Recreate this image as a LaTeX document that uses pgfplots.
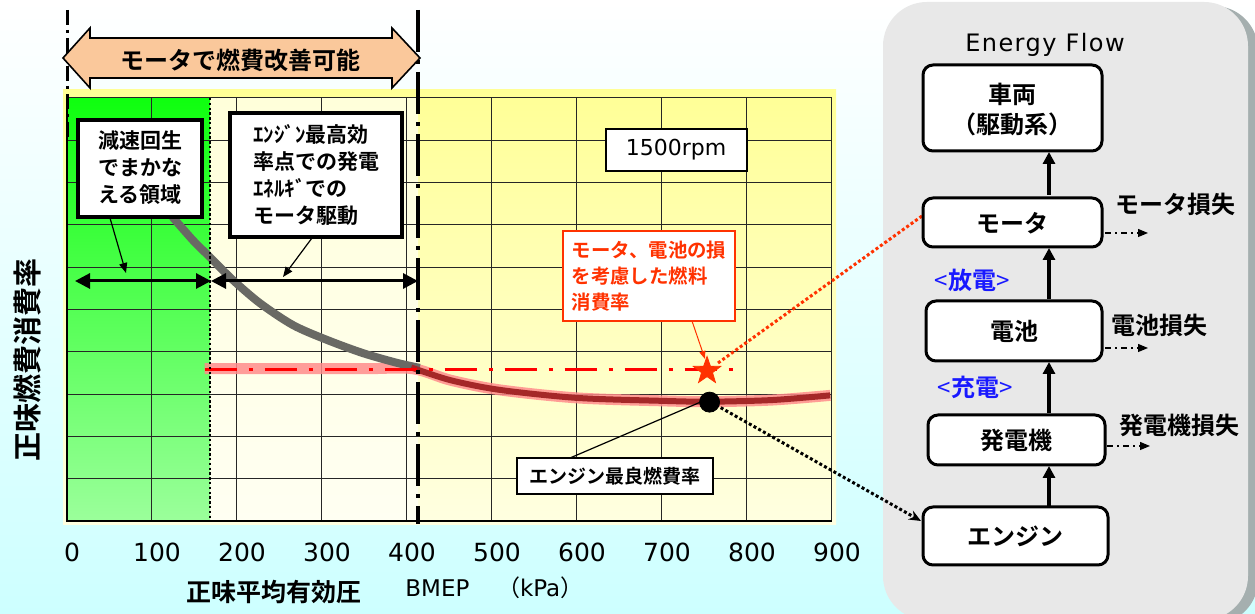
\documentclass[border=0pt]{standalone}
\usepackage{pgfplots}
\pgfplotsset{compat=1.18}
\usepackage{fontspec}
\setmainfont{DejaVu Sans}
\newfontfamily\cjk{Noto Sans CJK JP}[BoldFont={Noto Sans CJK JP Bold}]
\newfontfamily\lat{DejaVu Sans}
\newfontfamily\latw{DejaVu Sans}[LetterSpace=6]
\usetikzlibrary{arrows.meta}
\definecolor{bgcyan}{RGB}{205,255,255}
\definecolor{ytop}{RGB}{255,255,150}
\definecolor{ybot}{RGB}{255,255,225}
\definecolor{ctop}{RGB}{255,255,218}
\definecolor{cbot}{RGB}{255,255,242}
\definecolor{gtop}{RGB}{15,255,15}
\definecolor{gbot}{RGB}{155,255,155}
\definecolor{peach}{RGB}{250,200,155}
\definecolor{pinkc}{RGB}{255,140,140}
\definecolor{dred}{RGB}{165,40,40}
\definecolor{grayc}{RGB}{105,105,100}
\definecolor{orred}{RGB}{255,50,0}
\definecolor{panel}{RGB}{232,232,232}
\definecolor{shadowc}{RGB}{165,175,175}
\definecolor{blu}{RGB}{25,25,255}
\pgfdeclareplotmark{fstar}{%
 \pgfpathmoveto{\pgfpointpolar{90}{\pgfplotmarksize}}%
 \pgfpathlineto{\pgfpointpolar{126}{0.4\pgfplotmarksize}}%
 \pgfpathlineto{\pgfpointpolar{162}{\pgfplotmarksize}}%
 \pgfpathlineto{\pgfpointpolar{198}{0.4\pgfplotmarksize}}%
 \pgfpathlineto{\pgfpointpolar{234}{\pgfplotmarksize}}%
 \pgfpathlineto{\pgfpointpolar{270}{0.4\pgfplotmarksize}}%
 \pgfpathlineto{\pgfpointpolar{306}{\pgfplotmarksize}}%
 \pgfpathlineto{\pgfpointpolar{342}{0.4\pgfplotmarksize}}%
 \pgfpathlineto{\pgfpointpolar{18}{\pgfplotmarksize}}%
 \pgfpathlineto{\pgfpointpolar{54}{0.4\pgfplotmarksize}}%
 \pgfpathclose
 \pgfusepathqfillstroke}
\newcommand{\jb}[1]{\cjk\bfseries\fontsize{#1}{#1}\selectfont}
\begin{document}
\begin{tikzpicture}
\path[use as bounding box] (0,0) rectangle (627.5pt,-307pt);
\clip (0,0) rectangle (627.5pt,-307pt);
\begin{scope}[x=0.5pt,y=-0.5pt]
\shade[top color=white,bottom color=bgcyan] (0,0) rectangle (1255,614);
\fill[shadowc,rounded corners=22pt] (890,6) rectangle (1258,624);
\fill[panel,rounded corners=22pt] (883,2) rectangle (1248,620);
\shade[top color=ytop,bottom color=ybot] (63,90) rectangle (836,525);
\shade[top color=ctop,bottom color=cbot] (210,98) rectangle (418,521);
\shade[top color=gtop,bottom color=gbot] (67,98) rectangle (210,521);
\end{scope}
\begin{axis}[at={(33.5pt,-260.5pt)}, anchor=south west, scale only axis,
  width=382.5pt, height=211.5pt,
  xmin=0, xmax=900, ymin=0, ymax=10,
  xtick={0,100,...,900}, ytick={0,1,...,10}, yticklabel=\empty,
  grid=major, major grid style={line width=0.5pt,black!85},
  axis line style={line width=0.5pt,black!85},
  major tick length=0pt,
  /pgf/number format/assume math mode=true,
  xticklabel style={font=\lat\fontsize{12.5}{14}\selectfont, anchor=base, yshift=-20.5pt, xshift=2.5pt},
  clip=false]
\addplot[pinkc, opacity=0.85, line width=5.5pt, smooth] coordinates {(162,3.6)(250,3.6)(350,3.6)(407,3.6)(451,3.33)(509,3.10)(600,2.91)(701,2.84)(756,2.82)(830,2.86)(898,2.97)};
\addplot[grayc, line width=4pt, smooth] coordinates {(124,7.19)(148,6.64)(168,6.24)(195,5.70)(227,5.15)(266,4.63)(306,4.28)(348,3.97)(388,3.74)(415,3.62)};
\addplot[dred, line width=3pt, smooth] coordinates {(405,3.63)(451,3.33)(509,3.10)(600,2.91)(701,2.84)(756,2.82)(830,2.86)(898,2.97)};
\addplot[red, line width=1.5pt, dash pattern=on 16pt off 6pt on 2pt off 6pt] coordinates {(162,3.59)(786,3.59)};
\addplot[only marks, mark=*, mark size=5pt, black] coordinates {(756,2.81)};
\addplot[only marks, mark=fstar, mark size=7.2pt, orred, mark options={fill=orred,draw=orred}] coordinates {(753,3.55)};
\end{axis}
\begin{scope}[x=0.5pt,y=-0.5pt]
\draw[line width=1pt] (67,98)--(67,521)--(832,521);
\draw[line width=1.2pt, dash pattern=on 1.2pt off 1.2pt] (210,98)--(210,521);
\draw[line width=1.6pt, dash pattern=on 21pt off 4pt on 2pt off 4pt] (418,10)--(418,524);
\draw[line width=1.5pt, dash pattern=on 7.5pt off 2.5pt on 1.5pt off 2.5pt] (67,10)--(67,140);
% title arrow
\draw[fill=peach, line width=0.8pt] (63,58)--(90,28)--(90,38)--(392,38)--(392,28)--(420,58)--(392,88)--(392,78)--(90,78)--(90,88)--cycle;
\node[font=\jb{12}] at (240,60) {モータで燃費改善可能};
% horizontal arrows
\draw[line width=1.5pt, {Triangle[length=7.5pt,width=7.5pt]}-{Triangle[length=7.5pt,width=7.5pt]}] (75,281)--(211,281);
\draw[line width=1.5pt, {Triangle[length=7.5pt,width=7.5pt]}-{Triangle[length=7.5pt,width=7.5pt]}] (211,281)--(418,281);
% boxes
\draw[line width=1.6pt, fill=white] (78,120) rectangle (202,217);
\node[align=left, font=\cjk\bfseries\fontsize{10.5}{13.5}\selectfont] at (140,168) {減速回生\\でまかな\\える領域};
\draw[line width=1.6pt, fill=white] (230,113) rectangle (402,237);
\node[align=left, font=\cjk\bfseries\fontsize{10.5}{13.5}\selectfont] at (316,175) {ｴﾝｼﾞﾝ最高効\\率点での発電\\ｴﾈﾙｷﾞでの\\モータ駆動};
\draw[line width=0.6pt, -{Triangle[length=5pt,width=4pt]}] (110,218)--(126,273);
\draw[line width=0.6pt, -{Triangle[length=5pt,width=4pt]}] (312,238)--(283,277);
\draw[line width=0.7pt, fill=white] (606,129) rectangle (747,171);
\node[font=\lat\fontsize{11}{13}\selectfont] at (676,150) {1500rpm};
\draw[orred, line width=0.6pt, fill=white] (563,231) rectangle (735,321);
\node[align=left, text=orred, font=\cjk\bfseries\fontsize{9.7}{13}\selectfont] at (649,276) {モータ、電池の損\\を考慮した燃料\\消費率};
\draw[orred, line width=0.5pt, -{Triangle[length=4pt,width=3pt]}] (692,321)--(705,359);
\draw[line width=0.6pt] (570,458)--(703,401);
\draw[line width=1pt, fill=white] (517,458) rectangle (713,494);
\node[font=\jb{9.5}] at (615,476) {エンジン最良燃費率};
% connectors
\draw[orred, line width=1.5pt, dash pattern=on 1.5pt off 1.2pt] (718,363)--(922,216);
\draw[black, line width=1.5pt, dash pattern=on 1.5pt off 1.2pt, -{Stealth[length=6pt,width=5pt]}] (716,405)--(921,521);
% axis labels
\node[rotate=90, font=\jb{14.5}] at (27,360) {正味燃費消費率};
\node[font=\jb{12.5}] at (274,592) {正味平均有効圧};
\node[anchor=west, inner sep=0pt, font=\lat\fontsize{11.5}{13}\selectfont] at (405,588) {BMEP\hspace{1.2em}{\cjk （}kPa{\cjk ）}};
% right panel
\node[font=\latw\fontsize{12}{14}\selectfont] at (1045,45) {Energy Flow};
\draw[line width=1.5pt, fill=white, rounded corners=5pt] (923,65) rectangle (1102,151);
\node[align=center, font=\cjk\bfseries\fontsize{12}{15}\selectfont] at (1012,110) {車両\\（駆動系）};
\draw[line width=1.5pt, fill=white, rounded corners=5pt] (923,198) rectangle (1102,247);
\node[font=\jb{12}] at (1012,223) {モータ};
\draw[line width=1.5pt, fill=white, rounded corners=5pt] (926,301) rectangle (1102,361);
\node[font=\jb{12}] at (1014,331) {電池};
\draw[line width=1.5pt, fill=white, rounded corners=5pt] (928,415) rectangle (1105,465);
\node[font=\jb{12}] at (1016,440) {発電機};
\draw[line width=1.5pt, fill=white, rounded corners=5pt] (923,507) rectangle (1108,565);
\node[font=\jb{12}] at (1015,536) {エンジン};
\foreach \a/\b in {195/152, 299/248, 413/362, 506/466}
  \draw[line width=2pt, -{Triangle[length=6pt,width=6pt]}] (1049,\a)--(1049,\b);
\node[anchor=west, font=\jb{12}] at (1108,204) {モータ損失};
\node[anchor=west, font=\jb{12}] at (1104,325) {電池損失};
\node[anchor=west, font=\jb{12}] at (1112,425) {発電機損失};
\foreach \yy/\xa in {233/1105, 348/1105, 446/1107}
  \draw[line width=0.6pt, dash pattern=on 3pt off 2pt on 1pt off 2pt, -{Triangle[length=5pt,width=4pt]}] (\xa,\yy)--(\xa+43,\yy);
\node[text=blu, font=\cjk\fontsize{12}{14}\selectfont] at (972,280) {<{\bfseries 放電}>};
\node[text=blu, font=\cjk\fontsize{12}{14}\selectfont] at (975,387) {<{\bfseries 充電}>};
\end{scope}
\end{tikzpicture}
\end{document}
